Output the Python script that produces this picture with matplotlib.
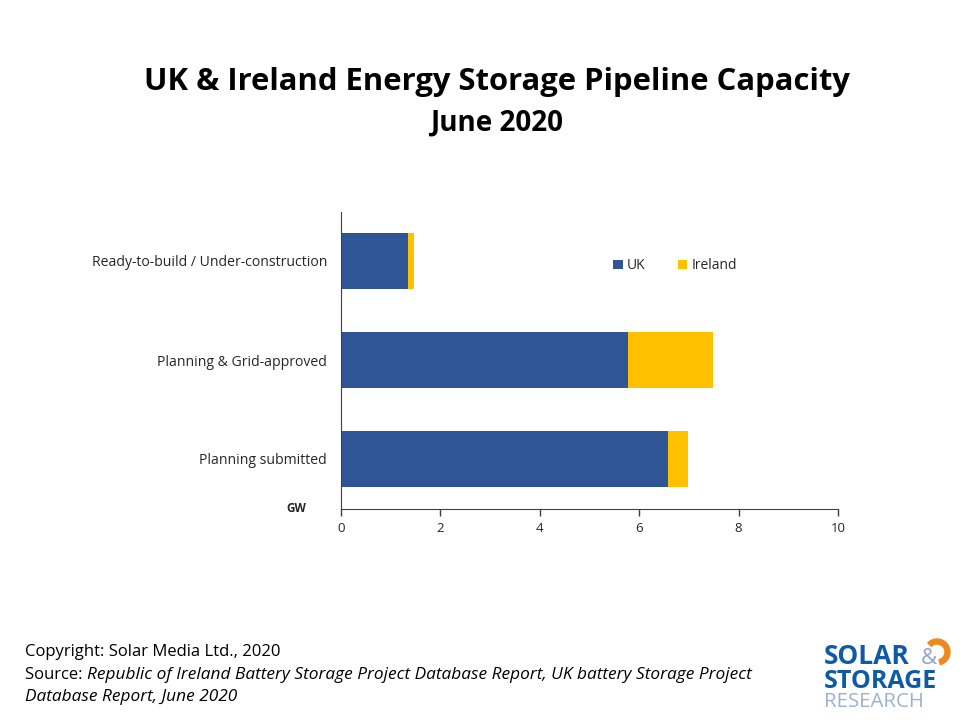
# UK & Ireland storage pipeline, stacked horizontal bars

from matplotlib import pyplot as plt
from matplotlib.patches import Wedge

stages = ['Planning submitted', 'Planning & Grid-approved', 'Ready-to-build / Under-construction']
uk = [6.58, 5.77, 1.35]
ireland = [0.40, 1.71, 0.12]
xticks = [0, 2, 4, 6, 8, 10]

W, H = 960, 720
BLUE = '#2F5597'
YELLOW = '#FFC000'

plt.rcParams['font.family'] = ['Open Sans', 'DejaVu Sans']

fig = plt.figure(figsize=(W / 100, H / 100), dpi=100)
ax = fig.add_axes([341 / W, 1 - 508.5 / H, 497 / W, 297 / H])

ax.barh(stages, uk, height=0.575, color=BLUE, label='UK')
ax.barh(stages, ireland, left=uk, height=0.575, color=YELLOW, label='Ireland')

ax.set_xlim(0, 10)
ax.set_ylim(-0.5, 2.5)
ax.set_xticks(xticks)
ax.tick_params(axis='x', length=5, width=1, color='#404040', labelsize=9.5, labelcolor='#262626', pad=5)
ax.tick_params(axis='y', length=0, labelsize=10.1, labelcolor='#262626', pad=10)
ax.spines['top'].set_visible(False)
ax.spines['right'].set_visible(False)
ax.spines['left'].set_color('#404040')
ax.spines['bottom'].set_color('#404040')

ax.legend(loc='center', bbox_to_anchor=(0.672, 0.817), ncol=2, frameon=False, fontsize=10,
          handlelength=0.7, handleheight=0.7, handletextpad=0.3, columnspacing=2.3,
          labelcolor='#262626')

def put(x, y, s, **kw):
    fig.text(x / W, 1 - y / H, s, **kw)

put(497, 82, 'UK & Ireland Energy Storage Pipeline Capacity', ha='center', va='center',
    fontsize=22.3, fontweight='bold', color='black')
put(497, 123, 'June 2020', ha='center', va='center', fontsize=20, fontweight='bold', color='black')
put(296, 509, 'GW', ha='center', va='center', fontsize=8.5, fontweight='bold', color='#262626')

put(25, 652, 'Copyright: Solar Media Ltd., 2020', va='center', fontsize=12, color='black')
put(25, 675, 'Source: ', va='center', fontsize=12, color='black')
put(87, 675, 'Republic of Ireland Battery Storage Project Database Report, UK battery Storage Project',
    va='center', fontsize=12.4, style='italic', color='black')
put(25, 697, 'Database Report, June 2020', va='center', fontsize=12.4, style='italic', color='black')

# logo, drawn as text plus an arc
put(824, 656, 'SOLAR', va='center', fontsize=19, fontweight='bold', color='#0F5AA6')
put(929, 658, '&', ha='center', va='center', fontsize=16, color='#8FA6CC')
put(824, 681, 'STORAGE', va='center', fontsize=18, fontweight='bold', color='#0F5AA6')
put(824, 702, 'RESEARCH', va='center', fontsize=14.7, color='#9DB0D3')

logo = fig.add_axes([0, 0, 1, 1], zorder=5)
logo.set_xlim(0, W)
logo.set_ylim(H, 0)
logo.axis('off')
logo.set_aspect('equal')
# y axis is flipped here, so angles run clockwise on screen
logo.add_patch(Wedge((937, 652), 13, -135, 75, width=5, color='#EE8A1D'))

fig.savefig('out.png', dpi=100)
